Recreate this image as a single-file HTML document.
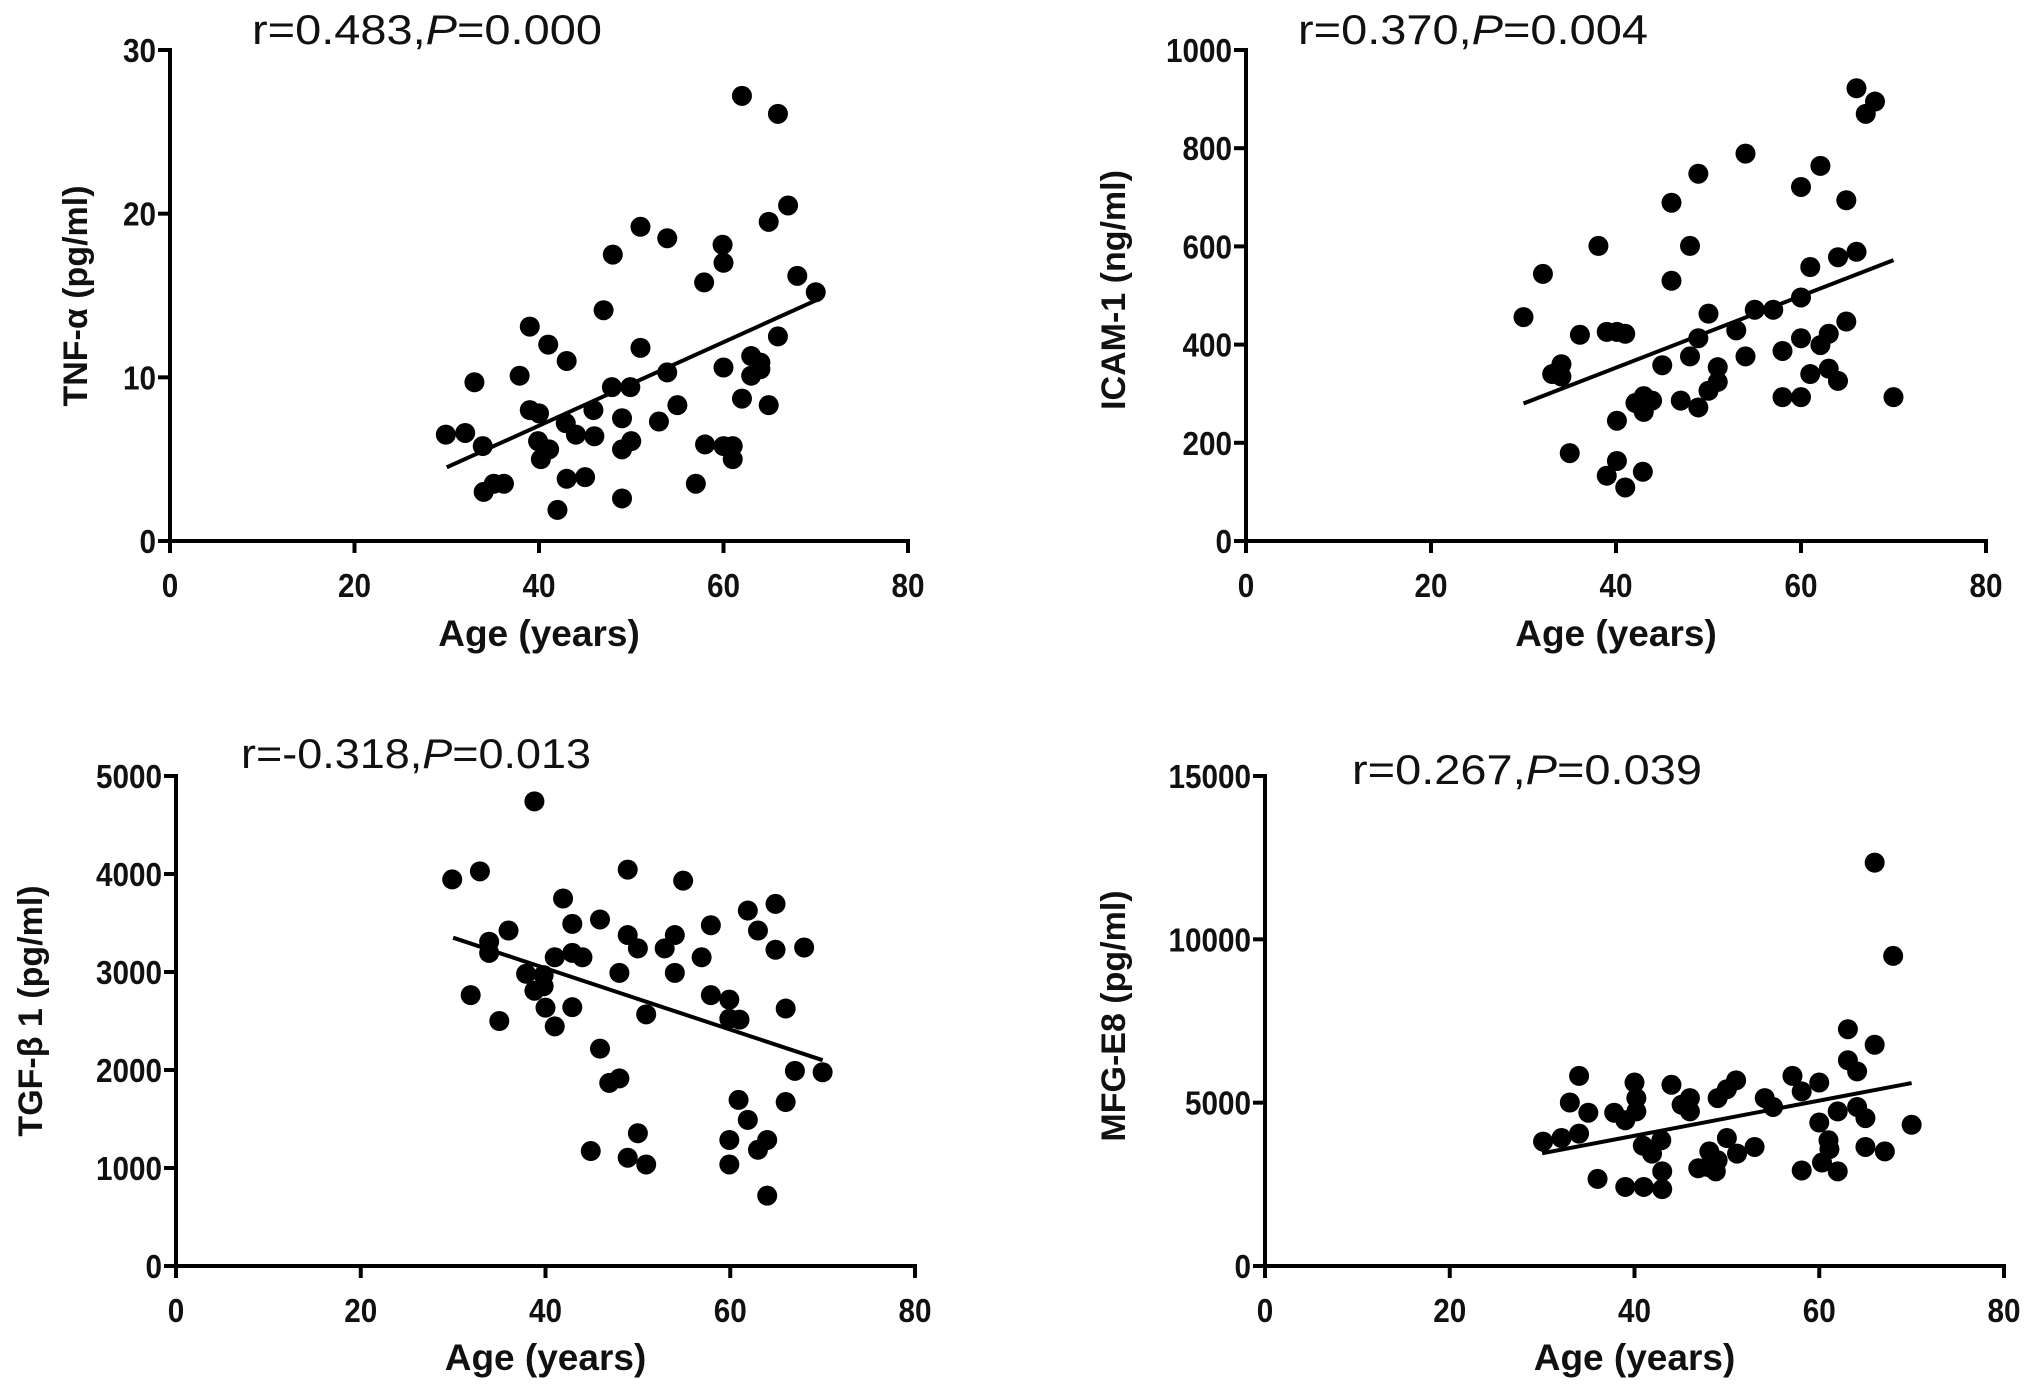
<!DOCTYPE html>
<html><head><meta charset="utf-8"><style>
html,body{margin:0;padding:0;background:#fff}
svg{display:block}
text{font-family:"Liberation Sans",Arial,sans-serif;fill:#111}
</style></head><body>
<svg id="chart" width="2031" height="1390" viewBox="0 0 2031 1390"></svg>
<script>
const ages1=[29.9,32,33,33.9,34,35.1,36.2,37.9,39,39,40,39.9,40.2,41.1,41,42.9,43,44,42,43,45,45.9,46,47,47.9,48,49,49,49,49.9,50,51,51,53,53.9,53.9,55,57,57.9,58,59.9,60,60,60,61,61,62,62,63,63,64,64,64.9,64.9,65.9,65.9,67,68,70];
const tnf=[6.5,6.6,9.7,5.8,3.0,3.5,3.5,10.1,13.1,8.0,7.8,6.1,5.0,5.6,12.0,7.2,11.0,6.5,1.9,3.8,3.9,8.0,6.4,14.1,9.4,17.5,7.5,5.6,2.6,9.4,6.1,19.2,11.8,7.3,18.5,10.3,8.3,3.5,15.8,5.9,18.1,17.0,10.6,5.8,5.8,5.0,27.2,8.7,11.3,10.1,10.9,10.5,8.3,19.5,26.1,12.5,20.5,16.2,15.2];
const ages2=[30,32.1,33.1,34.1,34.1,35,36.1,38.1,39,39,40.1,40.1,40.1,41,41,42.1,42.9,43,43,43.9,45,46,46,47,48,48,48.9,48.9,48.9,50,50,51,51,53,54,54,55,57,58,58,60,60,60,60,61,61,62.1,62.1,63,63,64,64,64.9,64.9,66,66,67,68,70];
const icam=[456,544,340,360,335,179,420,601,426,133,426,245,163,109,422,281,141,263,295,286,358,689,530,286,601,376,748,272,413,463,306,324,354,429,789,376,471,471,387,293,721,496,413,293,558,340,764,399,422,351,578,326,694,447,922,589,870,895,293];
const ages3=[29.9,32.9,31.9,33.9,33.9,35,36,37.9,38.8,38.8,39.8,39.8,40,41,41,41.9,42.9,42.9,42.9,44,44.9,45.9,45.9,46.9,48,48,48.9,48.9,48.9,50,50,50.9,50.9,52.9,54,54,54.9,56.9,57.9,57.9,59.9,59.9,59.9,59.9,61,60.9,61.9,61.9,63,63,64,64,64.9,64.9,66,66,67,68,70];
const tgf=[3945,4027,2764,3309,3195,2500,3423,2982,4741,2809,2968,2855,2636,2445,3150,3750,3491,3195,2641,3150,1173,3536,2218,1868,1914,2991,4045,3377,1105,3241,1355,2568,1036,3241,3377,2991,3932,3150,3477,2764,2718,1286,1036,2523,2514,1695,3627,1491,3423,1186,1286,718,3695,3227,2627,1673,1991,3250,1977];
const ages4=[30.1,32.1,33,34,34,35,36,37.8,39,39,40,40.2,40.2,40.9,41,41.9,42.9,43,43,44,45.1,46,46,46.9,47.9,48.1,48.8,49,49,50,50,51,51.1,53,54.1,55,57.1,58.1,58.1,60,60,60.3,61,61.1,62,62,63.1,63.1,64.1,64.1,65,65,66,66,67.1,68,70];
const mfg=[3808,3917,5005,5820,4053,4692,2666,4692,4460,2420,5616,5140,4732,3685,2420,3440,3848,2897,2353,5548,4936,5140,4732,2992,3033,3508,2897,3236,5140,3917,5412,5684,3440,3644,5140,4868,5820,5344,2924,5616,4392,3168,3848,3576,2897,4732,7249,6297,5956,4868,4528,3644,12348,6773,3508,9493,4324];
const xTicks=[0,20,40,60,80];
const yTicks1=[0,10,20,30], yTicks2=[0,200,400,600,800,1000], yTicks3=[0,1000,2000,3000,4000,5000], yTicks4=[0,5000,10000,15000];
const fit1=[[30,4.5],[70,14.7]], fit2=[[30,280],[70,572]], fit3=[[30,3350],[70,2100]], fit4=[[30,3450],[70,5600]];

const NS="http://www.w3.org/2000/svg";
const svg=document.getElementById('chart');
function el(tag,attrs,parent){const e=document.createElementNS(NS,tag);for(const k in attrs)e.setAttribute(k,attrs[k]);(parent||svg).appendChild(e);return e;}

const panels=[
 {id:'tnf',xs:ages1,ys:tnf,yt:yTicks1,fit:fit1,ymax:30,x0:170,x1:908,y0:541,y1:50,ytitle:'TNF-α (pg/ml)',ytx:75,yty:296,ann:['r=0.483,','P','=0.000'],ax:252,ay:44,xty:646,tly:597},
 {id:'icam',xs:ages2,ys:icam,yt:yTicks2,fit:fit2,ymax:1000,x0:1246,x1:1986,y0:541,y1:50,ytitle:'ICAM-1  (ng/ml)',ytx:1113,yty:290,ann:['r=0.370,','P','=0.004'],ax:1298,ay:44,xty:646,tly:597},
 {id:'tgf',xs:ages3,ys:tgf,yt:yTicks3,fit:fit3,ymax:5000,x0:176,x1:915,y0:1266,y1:776,ytitle:'TGF-β 1  (pg/ml)',ytx:30,yty:1011,ann:['r=-0.318,','P','=0.013'],ax:241,ay:768,xty:1370,tly:1322},
 {id:'mfg',xs:ages4,ys:mfg,yt:yTicks4,fit:fit4,ymax:15000,x0:1265,x1:2004,y0:1266,y1:776,ytitle:'MFG-E8  (pg/ml)',ytx:1113,yty:1016,ann:['r=0.267,','P','=0.039'],ax:1352,ay:784,xty:1370,tly:1322}
];

panels.forEach(p=>{
  const g=el('g',{});
  
  
  const sx=v=>p.x0+(v/80)*(p.x1-p.x0);
  const sy=v=>p.y0-(v/p.ymax)*(p.y0-p.y1);
  const ya=el('line',{x1:p.x0,y1:p.y0+2,x2:p.x0,y2:p.y1-2,stroke:'#000','stroke-width':4},g);
  
  
  const xa=el('line',{x1:p.x0-2,y1:p.y0,x2:p.x1+2,y2:p.y0,stroke:'#000','stroke-width':4},g);
  
  
  xTicks.forEach(t=>{
    const x=sx(t);
    el('line',{x1:x,y1:p.y0,x2:x,y2:p.y0+12,stroke:'#000','stroke-width':4},g);
    const tx=el('text',{x:0,y:0,'text-anchor':'middle','font-size':33,'font-weight':'bold',transform:`translate(${x},${p.tly}) scale(0.9,1)`},g);
    tx.textContent=t;
    
    
  });
  p.yt.forEach(t=>{
    const y=sy(t);
    el('line',{x1:p.x0-12,y1:y,x2:p.x0,y2:y,stroke:'#000','stroke-width':4},g);
    const tx=el('text',{x:0,y:0,'text-anchor':'end','font-size':33,'font-weight':'bold',transform:`translate(${p.x0-14},${y+12}) scale(0.9,1)`},g);
    tx.textContent=t;
    
    
  });
  const xt=el('text',{x:(p.x0+p.x1)/2,y:p.xty,'text-anchor':'middle','font-size':37,'font-weight':'bold'},g);
  xt.textContent='Age (years)';
  
  
  const yt=el('text',{x:0,y:0,'text-anchor':'middle','font-size':34,'font-weight':'bold',transform:`translate(${p.ytx+12},${p.yty}) rotate(-90)`},g);
  yt.textContent=p.ytitle;
  
  
  const an=el('text',{x:p.ax,y:p.ay,'font-size':42,textLength:350,lengthAdjust:'spacingAndGlyphs'},g);
  
  
  const s1=el('tspan',{},an);s1.textContent=p.ann[0];
  const s2=el('tspan',{'font-style':'italic'},an);s2.textContent=p.ann[1];
  const s3=el('tspan',{},an);s3.textContent=p.ann[2];
  p.xs.forEach((a,i)=>{
    const c=el('circle',{cx:sx(a),cy:sy(p.ys[i]),r:10,fill:'#000'},g);
    
    
  });
  const fl=el('line',{x1:sx(p.fit[0][0]),y1:sy(p.fit[0][1]),x2:sx(p.fit[1][0]),y2:sy(p.fit[1][1]),stroke:'#000','stroke-width':4},g);
  
  
});
</script>
</body></html>
